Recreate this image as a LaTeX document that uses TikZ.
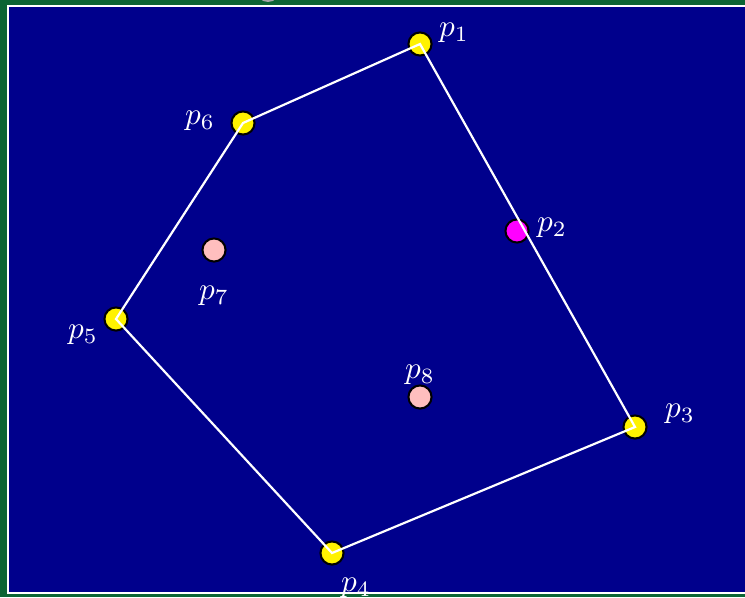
\documentclass[tikz,border=0pt]{standalone}
\usepackage{amsmath}
\usepackage{xcolor}
\usepackage{tikz}
\definecolor{bggreen}{RGB}{12,100,52}
\definecolor{hullblue}{RGB}{0,0,140}
\definecolor{ptpink}{RGB}{255,190,190}
\definecolor{ptmagenta}{RGB}{255,0,255}

\begin{document}
\begin{tikzpicture}[
    x=0.32pt, y=-0.32pt,
    pt/.style={circle, draw=black, line width=0.65pt, inner sep=0pt, minimum size=7.4pt},
    hull/.style={pt, fill=yellow},
    inner/.style={pt, fill=ptpink},
    lbl/.style={text=white, inner sep=0pt},
    edge/.style={white, line width=0.7pt}
]

% --- HINTERGRUND ---
\fill[bggreen] (0,0) rectangle (745,597);
\useasboundingbox (0,0) rectangle (745,597);
\fill[gray!70] (268,-10) circle (12);
\draw[white, line width=0.65pt, fill=hullblue] (8,6) rectangle (770,593);

% --- PUNKTE ---
\node[hull] (p1) at (420,44) {};
\node[pt, fill=ptmagenta] (p2) at (517,231) {};
\node[hull] (p3) at (635,427) {};
\node[hull] (p4) at (332,553) {};
\node[hull] (p5) at (116,319) {};
\node[hull] (p6) at (243,123) {};
\node[inner] (p7) at (214,250) {};
\node[inner] (p8) at (420,397) {};

% --- HUELLE ---
\draw[edge] (p1.center) -- (p3.center) -- (p4.center) -- (p5.center) -- (p6.center) -- cycle;

% --- BESCHRIFTUNGEN ---
\node[lbl] (l1) at (454,33) {$p_1$};
\node[lbl] (l2) at (552,228) {$p_2$};
\node[lbl] (l3) at (680,414) {$p_3$};
\node[lbl] (l4) at (356,588) {$p_4$};
\node[lbl] (l5) at (83,335) {$p_5$};
\node[lbl] (l6) at (200,121) {$p_6$};
\node[lbl] (l7) at (214,296) {$p_7$};
\node[lbl] (l8) at (420,375) {$p_8$};

\end{tikzpicture}
\end{document}
